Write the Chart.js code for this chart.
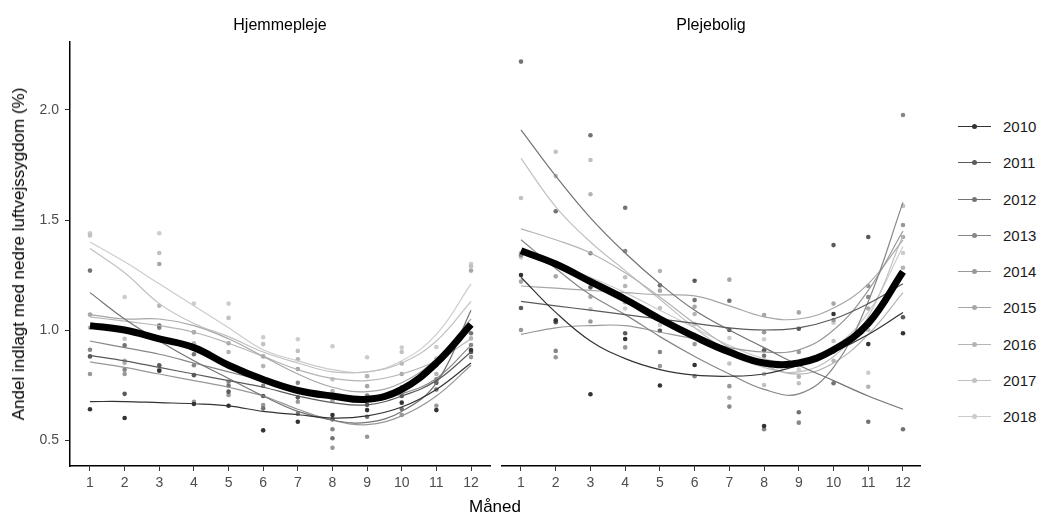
<!DOCTYPE html>
<html>
<head>
<meta charset="UTF-8">
<title>Andel indlagt med nedre luftvejssygdom</title>
<script src="https://cdn.jsdelivr.net/npm/chart.js"></script>
<style>
  body { margin: 0; background: #fff; font-family: "Liberation Sans", Arial, sans-serif; }
  #wrap { position: relative; width: 1047px; height: 515px; overflow: hidden; }
  canvas { position: absolute; top: 0; }
  .txt { position: absolute; white-space: nowrap; color: #000; }
  .facet { top: 16px; font-size: 16px; transform: translateX(-50%); }
  .leg { position: absolute; left: 958px; width: 140px; height: 20px; }
  .leg .ln { position: absolute; left: 0; top: 9px; width: 33px; height: 1px; }
  .leg .dt { position: absolute; left: 14px; top: 7px; width: 5px; height: 5px; border-radius: 50%; }
  .leg .lb { position: absolute; left: 45px; top: 1px; font-size: 15px; color: #1a1a1a; }
</style>
</head>
<body>
<div id="wrap">
  <canvas id="left" width="495" height="515" style="left:0"></canvas>
  <canvas id="right" width="435" height="515" style="left:490px"></canvas>
  <div class="txt facet" style="left:280px">Hjemmepleje</div>
  <div class="txt facet" style="left:711px">Plejebolig</div>
  <div class="txt" style="left:495px; top:497px; font-size:17px; transform:translateX(-50%)">Måned</div>
  <div class="txt" style="left:19px; top:254px; font-size:17px; transform:translate(-50%,-50%) rotate(-90deg)">Andel indlagt med nedre luftvejssygdom (%)</div>
  <div id="legend"></div>
</div>

<script>
// måneder og år
var months = [1, 2, 3, 4, 5, 6, 7, 8, 9, 10, 11, 12];
var years = ['2010', '2011', '2012', '2013', '2014', '2015', '2016', '2017', '2018'];
var yTicks = [0.5, 1.0, 1.5, 2.0];

// Hjemmepleje - punkter pr. år (måned 1-12)
var hjemPoints = [
  [0.64, 0.60, 0.815, 0.664, 0.656, 0.544, 0.583, 0.614, 0.636, 0.67, 0.636, 0.909],
  [0.88, 0.71, 0.84, 0.795, 0.72, 0.70, 0.694, 0.594, 0.66, 0.70, 0.76, 0.90],
  [1.27, 0.93, 1.02, 0.89, 0.747, 0.644, 0.62, 0.508, 0.606, 0.641, 0.73, 0.985],
  [0.91, 0.82, 1.01, 0.84, 0.765, 0.747, 0.76, 0.549, 0.702, 0.74, 0.776, 0.932],
  [0.80, 0.80, 0.82, 0.674, 0.705, 0.659, 0.674, 0.465, 0.515, 0.614, 0.656, 0.877],
  [1.07, 0.86, 1.30, 0.99, 0.94, 0.88, 0.823, 0.68, 0.745, 0.80, 0.84, 1.27],
  [1.01, 0.85, 1.11, 0.94, 0.90, 0.836, 0.867, 0.723, 0.79, 0.848, 0.80, 0.962],
  [1.43, 0.96, 1.35, 0.99, 1.055, 0.936, 0.905, 0.776, 0.791, 0.90, 0.87, 1.29],
  [1.44, 1.15, 1.44, 1.12, 1.12, 0.967, 0.958, 0.926, 0.876, 0.92, 0.923, 1.30]
];
// Hjemmepleje - udglattede kurver pr. år
var hjemSmooth = [
  [0.675, 0.675, 0.67, 0.665, 0.655, 0.63, 0.615, 0.60, 0.61, 0.65, 0.73, 0.85],
  [0.885, 0.86, 0.83, 0.80, 0.77, 0.74, 0.70, 0.67, 0.66, 0.70, 0.77, 0.90],
  [1.17, 1.05, 0.95, 0.86, 0.78, 0.70, 0.63, 0.59, 0.58, 0.63, 0.76, 1.09],
  [0.95, 0.92, 0.89, 0.85, 0.81, 0.77, 0.73, 0.70, 0.68, 0.71, 0.78, 0.93],
  [0.855, 0.83, 0.80, 0.77, 0.74, 0.70, 0.64, 0.59, 0.57, 0.61, 0.70, 0.84],
  [1.07, 1.05, 1.05, 1.02, 0.96, 0.88, 0.80, 0.74, 0.72, 0.76, 0.87, 1.05],
  [1.06, 1.04, 1.02, 0.99, 0.94, 0.88, 0.82, 0.78, 0.77, 0.80, 0.86, 0.96],
  [1.37, 1.26, 1.12, 1.03, 0.97, 0.90, 0.85, 0.81, 0.81, 0.85, 0.95, 1.13],
  [1.40, 1.31, 1.21, 1.11, 1.01, 0.91, 0.86, 0.82, 0.81, 0.86, 0.98, 1.21]
];
var hjemMean = [1.02, 1.00, 0.96, 0.92, 0.84, 0.775, 0.725, 0.70, 0.685, 0.73, 0.85, 1.025];

// Plejebolig - punkter pr. år
var plejePoints = [
  [1.25, 1.044, 0.708, 0.959, 0.748, 0.841, 0.906, 0.564, 0.85, 1.073, 0.936, 0.985],
  [1.10, 1.035, 1.194, 0.985, 0.997, 1.224, 1.0, 0.908, 1.006, 1.386, 1.423, 1.058],
  [2.22, 1.54, 1.885, 1.556, 1.203, 1.136, 1.133, 0.883, 0.626, 0.758, 0.583, 0.549],
  [1.34, 0.905, 1.349, 1.359, 0.90, 0.79, 0.652, 0.549, 0.579, 0.902, 1.15, 1.977],
  [1.00, 0.876, 1.039, 0.921, 0.836, 0.936, 0.745, 0.99, 0.90, 1.045, 1.20, 1.477],
  [1.22, 1.244, 1.151, 1.126, 1.179, 1.106, 1.229, 1.068, 1.08, 1.12, 1.098, 1.423],
  [1.35, 1.70, 1.617, 1.20, 1.268, 1.073, 0.692, 0.80, 0.788, 0.86, 0.742, 1.283],
  [1.60, 1.81, 1.773, 1.24, 1.10, 1.027, 0.848, 0.75, 0.758, 0.95, 1.0, 1.564],
  [1.33, 1.30, 1.095, 1.098, 1.023, 0.98, 0.964, 0.958, 0.82, 1.033, 0.806, 1.35]
];
// Plejebolig - udglattede kurver pr. år
var plejeSmooth = [
  [1.24, 1.08, 0.95, 0.87, 0.82, 0.795, 0.79, 0.80, 0.84, 0.90, 0.98, 1.08],
  [1.13, 1.11, 1.09, 1.07, 1.05, 1.03, 1.01, 1.00, 1.01, 1.05, 1.12, 1.21],
  [1.91, 1.70, 1.51, 1.35, 1.21, 1.09, 1.00, 0.92, 0.84, 0.77, 0.70, 0.64],
  [1.41, 1.28, 1.16, 1.07, 0.97, 0.88, 0.80, 0.73, 0.71, 0.83, 1.13, 1.58],
  [0.98, 1.01, 1.02, 1.02, 0.99, 0.96, 0.92, 0.90, 0.91, 1.00, 1.18, 1.45],
  [1.20, 1.19, 1.18, 1.17, 1.16, 1.155, 1.11, 1.06, 1.05, 1.10, 1.21, 1.41],
  [1.46, 1.41, 1.35, 1.26, 1.15, 1.03, 0.92, 0.84, 0.80, 0.85, 0.98, 1.17],
  [1.78, 1.56, 1.40, 1.27, 1.14, 1.01, 0.90, 0.83, 0.81, 0.88, 1.06, 1.43],
  [1.35, 1.30, 1.24, 1.17, 1.09, 1.01, 0.93, 0.87, 0.85, 0.92, 1.08, 1.38]
];
var plejeMean = [1.36, 1.30, 1.22, 1.14, 1.05, 0.97, 0.90, 0.85, 0.85, 0.91, 1.03, 1.265];

// gråtoner (mørk -> lys)
var greys = ['#333333', '#5a5a5a', '#737373', '#878787', '#989898', '#a7a7a7', '#b4b4b4', '#c1c1c1', '#cccccc'];

function xy(vals) {
  return months.map(function (m, i) { return { x: m, y: vals[i] }; });
}

function buildDatasets(points, smooth, mean) {
  var ds = [];
  for (var i = 0; i < years.length; i++) {
    ds.push({
      type: 'line', label: years[i], data: xy(smooth[i]),
      borderColor: greys[i], borderWidth: 1.2, pointRadius: 0,
      tension: 0.4, fill: false, order: 2
    });
    ds.push({
      type: 'scatter', label: years[i] + ' p', data: xy(points[i]),
      backgroundColor: greys[i], borderWidth: 0, pointRadius: 2.3, order: 3
    });
  }
  ds.push({
    type: 'line', label: 'gennemsnit', data: xy(mean),
    borderColor: '#000', borderWidth: 7, pointRadius: 0,
    tension: 0.4, fill: false, order: 0, borderCapStyle: 'butt'
  });
  return ds;
}

function makeChart(id, points, smooth, mean, showY, xmin, xmax, pad) {
  var ctx = document.getElementById(id).getContext('2d');
  return new Chart(ctx, {
    data: { datasets: buildDatasets(points, smooth, mean) },
    options: {
      responsive: false,
      animation: false,
      devicePixelRatio: 1,
      layout: { padding: pad },
      plugins: { legend: { display: false }, tooltip: { enabled: false } },
      scales: {
        x: {
          type: 'linear', min: xmin, max: xmax,
          afterBuildTicks: function (s) { s.ticks = months.map(function (v) { return { value: v }; }); },
          afterFit: function (s) { s.height = 49; },
          grid: { drawOnChartArea: false, drawTicks: true, tickLength: 5, tickColor: '#333333', tickWidth: 1 },
          border: { display: true, color: '#000', width: 1.5 },
          ticks: { color: '#4d4d4d', font: { family: 'Liberation Sans', size: 14 }, padding: 4, maxRotation: 0 }
        },
        y: {
          display: showY,
          min: 0.382, max: 2.309,
          afterBuildTicks: function (s) { s.ticks = yTicks.map(function (v) { return { value: v }; }); },
          afterFit: function (s) { s.width = showY ? 70 : 0; },
          grid: { drawOnChartArea: false, drawTicks: true, tickLength: 5, tickColor: '#333333', tickWidth: 1 },
          border: { display: true, color: '#000', width: 1.5 },
          ticks: {
            color: '#4d4d4d', font: { family: 'Liberation Sans', size: 14 }, padding: 6,
            callback: function (v) { return v.toFixed(1); }
          }
        }
      }
    }
  });
}

makeChart('left', hjemPoints, hjemSmooth, hjemMean, true, 0.4227, 12.548, { top: 42, left: 0, right: 5, bottom: 0 });
makeChart('right', plejePoints, plejeSmooth, plejeMean, false, 0.453, 12.49, { top: 42, left: 12, right: 5, bottom: 0 });

// forklaring
var legendBox = document.getElementById('legend');
for (var i = 0; i < years.length; i++) {
  var itemTop = Math.round(127 + i * 36.25 - 10);
  legendBox.insertAdjacentHTML('beforeend',
    '<div class="leg" style="top:' + itemTop + 'px">' +
    '<div class="ln" style="background:' + greys[i] + '"></div>' +
    '<div class="dt" style="background:' + greys[i] + '"></div>' +
    '<div class="lb">' + years[i] + '</div></div>');
}
</script>
</body>
</html>
